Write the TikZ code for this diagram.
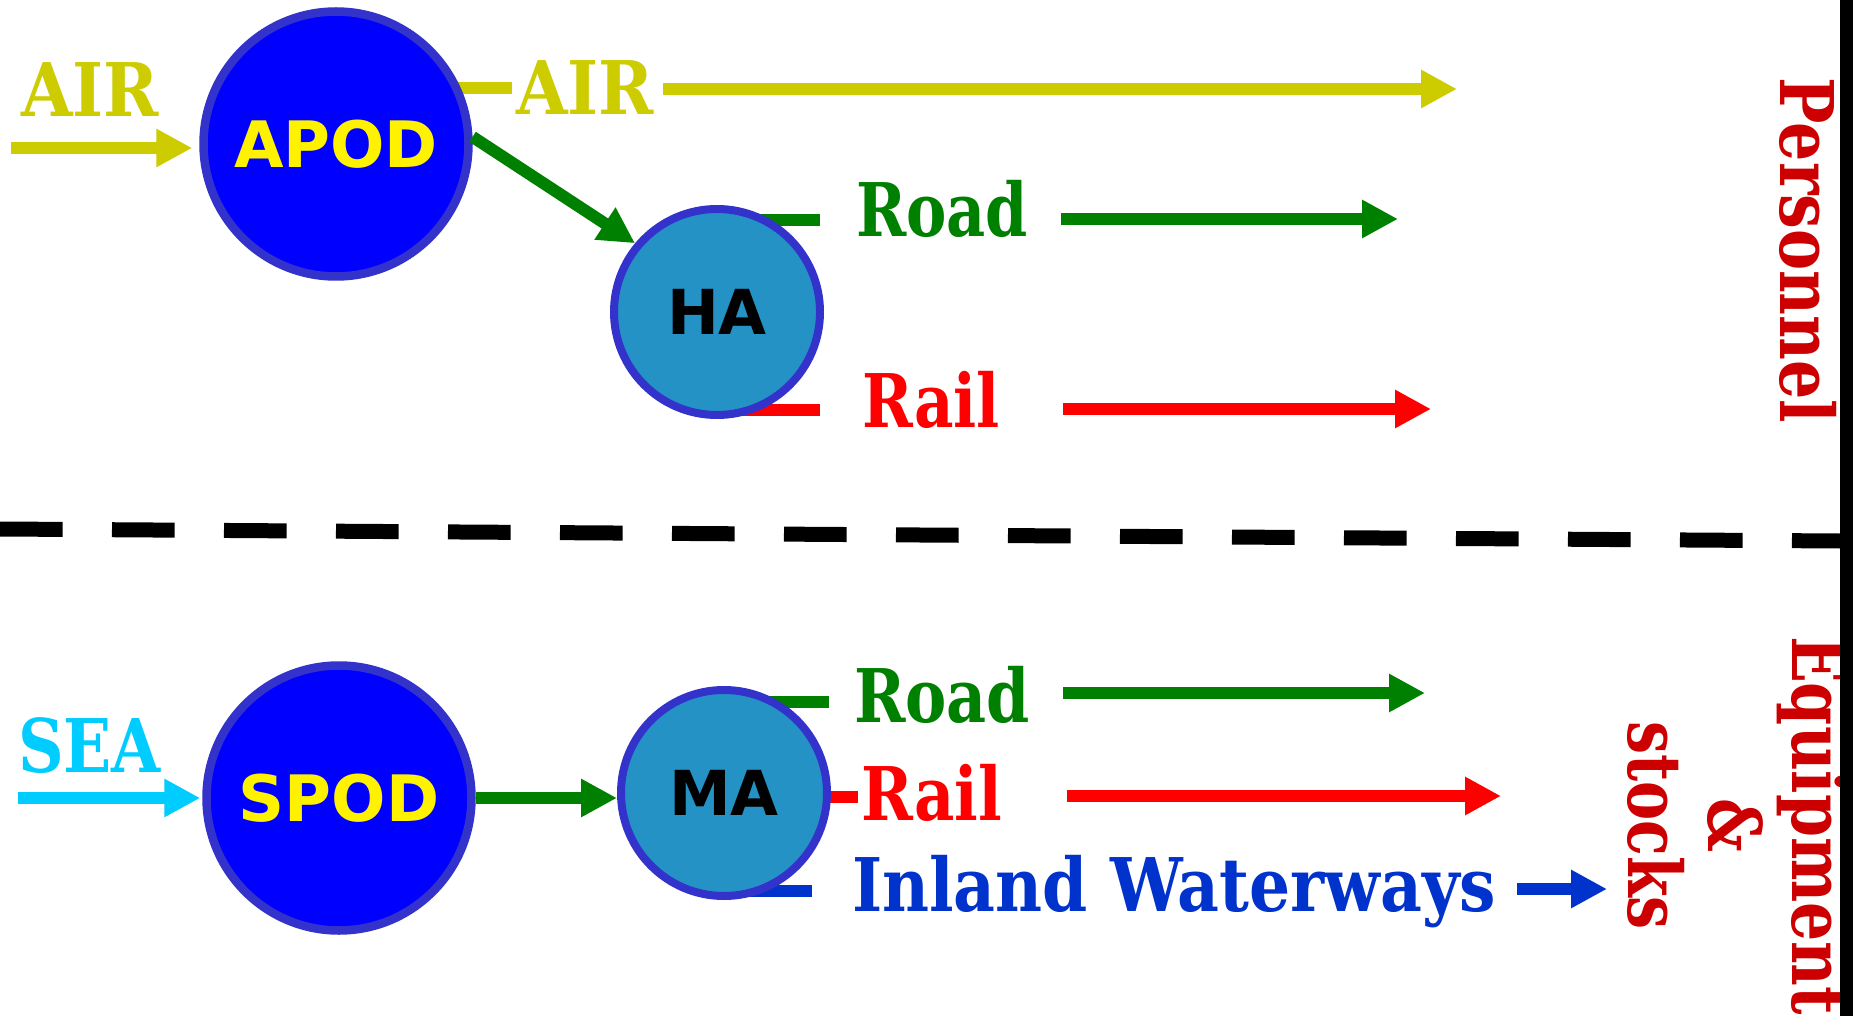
\documentclass[tikz,border=0pt]{standalone}
\usepackage{fontspec}
\usepackage{graphicx}
\usetikzlibrary{arrows.meta,backgrounds}
\newfontfamily\slabfont{DejaVu Serif}
\newfontfamily\boldsans{DejaVu Sans}
\definecolor{aircol}{HTML}{CCCC00}
\definecolor{seacol}{HTML}{00CCFF}
\definecolor{roadcol}{HTML}{008000}
\definecolor{railcol}{HTML}{FF0000}
\definecolor{watercol}{HTML}{0033CC}
\definecolor{titlecol}{HTML}{CC0000}
\definecolor{ringcol}{HTML}{3333CC}
\definecolor{podfill}{HTML}{0000FF}
\definecolor{areafill}{HTML}{2592C5}
\newcommand\fitw[2]{\resizebox{#1}{\height}{#2}}
\begin{document}
\begin{tikzpicture}[x=1pt,y=-1pt,
  pod/.style={circle, draw=ringcol, line width=8.5pt, fill=podfill, minimum size=265pt, inner sep=0pt, text=yellow, font=\boldsans\bfseries\fontsize{64}{64}\selectfont},
  area/.style={circle, draw=ringcol, line width=8pt, fill=areafill, minimum size=206pt, inner sep=0pt, text=black, font=\boldsans\bfseries\fontsize{62}{62}\selectfont},
  lbl/.style={inner sep=0pt, outer sep=0pt, anchor=base west, font=\slabfont\bfseries\fontsize{74}{80}\selectfont},
  vlbl/.style={lbl, rotate=-90, text=titlecol},
  flow/.style={line width=12pt, -{Triangle[length=36pt,width=36pt]}},
  link/.style={line width=12pt},
]
\useasboundingbox (0,0) rectangle (1853,1016);

% circles
\node[pod]  (APOD) at (336,144) {APOD};
\node[area] (HA)   at (717,312) {HA};
\node[pod]  (SPOD) at (339,798) {SPOD};
\node[area] (MA)   at (724,793) {MA};

% labels
\node[lbl, text=aircol]   (airin)   at (21,117)  {\fitw{138pt}{AIR}};
\node[lbl, text=aircol]   (airout)  at (516,115) {\fitw{138pt}{AIR}};
\node[lbl, text=roadcol]  (hroad)   at (856,237) {\fitw{172pt}{Road}};
\node[lbl, text=railcol]  (hrail)   at (862,427) {\fitw{138pt}{Rail}};
\node[lbl, text=roadcol]  (mroad)   at (854,722) {\fitw{176pt}{Road}};
\node[lbl, text=railcol]  (mrail)   at (861,820) {\fitw{141pt}{Rail}};
\node[lbl, text=watercol] (minland) at (852,911) {\fitw{644pt}{Inland Waterways}};
\node[lbl, text=seacol]   (seain)   at (18,772)  {\fitw{143pt}{SEA}};

% side titles
\node[vlbl] (pers)   at (1780,78)  {\fitw{345pt}{Personnel}};
\node[vlbl] (equip)  at (1792,636) {\fitw{379pt}{Equipment}};
\node[vlbl] (amp)    at (1708,798) {\fitw{54pt}{\&}};
\node[vlbl] (stocks) at (1628,721) {\fitw{209pt}{stocks}};

% free ends
\coordinate (airstart)   at (11,148);
\coordinate (seastart)   at (18,798);
\coordinate (airend)     at (1457,89);
\coordinate (hroadend)   at (1398,219);
\coordinate (hrailend)   at (1431,409);
\coordinate (mroadend)   at (1425,693);
\coordinate (mrailend)   at (1501,796);
\coordinate (minlandend) at (1607,889);
\coordinate (sepL) at (0,529);
\coordinate (sepR) at (1840,541);

% lines leaving the circles, tucked behind them
\begin{scope}[on background layer]
\fill[white] (0,0) rectangle (1853,1016);
\draw[link, aircol,   shorten <=-25pt, shorten >=4pt]  (APOD.24) -- (APOD.24 -| airout.west);
\draw[link, roadcol,  shorten <=-25pt, shorten >=36pt] (HA.59)   -- (HA.59 -| hroad.west);
\draw[link, railcol,  shorten <=-25pt, shorten >=42pt] (HA.-66)  -- (HA.-66 -| hrail.west);
\draw[link, roadcol,  shorten <=-25pt, shorten >=25pt] (MA.58)   -- (MA.58 -| mroad.west);
\draw[link, railcol,  shorten <=-25pt, shorten >=3pt]  (MA.-2)   -- (MA.-2 -| mrail.west);
\draw[link, watercol, shorten <=-25pt, shorten >=40pt] (MA.-66)  -- (MA.-66 -| minland.west);
\end{scope}

% arrows
\draw[flow, aircol, shorten >=7pt] (airstart) -- (airstart -| APOD.west);
\draw[flow, seacol, shorten >=2pt] (seastart) -- (seastart -| SPOD.west);
\draw[flow, roadcol] (APOD.3) -- (HA.140);
\draw[flow, roadcol] (SPOD.east) -- (SPOD.east -| MA.west);
\draw[flow, aircol,   shorten <=9pt]  (airout.east |- airend) -- (airend);
\draw[flow, roadcol,  shorten <=33pt] (hroad.east |- hroadend) -- (hroadend);
\draw[flow, railcol,  shorten <=63pt] (hrail.east |- hrailend) -- (hrailend);
\draw[flow, roadcol,  shorten <=33pt] (mroad.east |- mroadend) -- (mroadend);
\draw[flow, railcol,  shorten <=65pt] (mrail.east |- mrailend) -- (mrailend);
\draw[flow, watercol, shorten <=21pt] (minland.east |- minlandend) -- (minlandend);

% separator and right bar
\draw[line width=15pt, dash pattern=on 62.6pt off 49.4pt] (sepL) -- (sepR);
\fill[black] (1840,0) rectangle (1853,1016);
\end{tikzpicture}
\end{document}
